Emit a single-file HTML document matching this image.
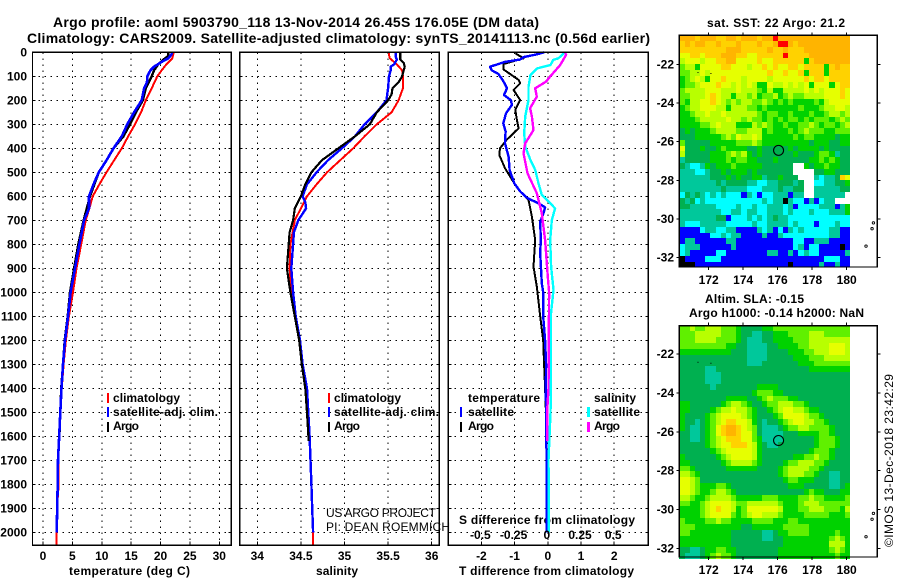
<!DOCTYPE html>
<html>
<head>
<meta charset="utf-8">
<title>Argo profile 5903790_118</title>
<style>
html,body{margin:0;padding:0;background:#fff;width:900px;height:580px;overflow:hidden}
svg{display:block}
text{font-family:"Liberation Sans",sans-serif;fill:#000}
.b{font-weight:bold;font-size:12px}
.t{font-weight:bold;font-size:14px}
.n{font-size:12px}
</style>
</head>
<body>
<svg id="chart" width="900" height="580" viewBox="0 0 900 580" xmlns="http://www.w3.org/2000/svg">
<text class="t" x="53" y="27" textLength="486" lengthAdjust="spacing">Argo profile: aoml 5903790_118 13-Nov-2014 26.45S 176.05E (DM data)</text>
<text class="t" x="27" y="43" textLength="623" lengthAdjust="spacing">Climatology: CARS2009. Satellite-adjusted climatology: synTS_20141113.nc (0.56d earlier)</text>
<text class="b" x="69" y="575" textLength="121" lengthAdjust="spacing">temperature (deg C)</text>
<text class="b" x="316" y="575" textLength="42" lengthAdjust="spacing">salinity</text>
<text class="b" x="459" y="575" textLength="175" lengthAdjust="spacing">T difference from climatology</text>
<text class="b" x="459" y="524" textLength="176" lengthAdjust="spacing">S difference from climatology</text>
<text class="b" x="707" y="27" textLength="138" lengthAdjust="spacing">sat. SST: 22 Argo: 21.2</text>
<text class="b" x="705" y="303" textLength="99" lengthAdjust="spacing">Altim. SLA: -0.15</text>
<text class="b" x="689" y="317" textLength="175" lengthAdjust="spacing">Argo h1000: -0.14 h2000: NaN</text>
<text class="n" transform="translate(893,547) rotate(-90)" textLength="173" lengthAdjust="spacing">©IMOS 13-Dec-2018 23:42:29</text>
<g id="plots"></g>
<g>
<rect x="107" y="393" width="2" height="10" fill="#f00"/>
<text class="b" x="113" y="402" textLength="67" lengthAdjust="spacing">climatology</text>
<rect x="107" y="407" width="2" height="10" fill="#00f"/>
<text class="b" x="113" y="416" textLength="105" lengthAdjust="spacing">satellite-adj. clim.</text>
<rect x="107" y="422" width="2" height="10" fill="#000"/>
<text class="b" x="113" y="430" textLength="26" lengthAdjust="spacing">Argo</text>
</g>
<g>
<rect x="328" y="393" width="2" height="10" fill="#f00"/>
<text class="b" x="334" y="402" textLength="67" lengthAdjust="spacing">climatology</text>
<rect x="328" y="407" width="2" height="10" fill="#00f"/>
<text class="b" x="334" y="416" textLength="105" lengthAdjust="spacing">satellite-adj. clim.</text>
<rect x="328" y="422" width="2" height="10" fill="#000"/>
<text class="b" x="334" y="430" textLength="26" lengthAdjust="spacing">Argo</text>
</g>
<g>
<text class="b" x="468" y="402" textLength="72" lengthAdjust="spacing">temperature</text>
<rect x="460" y="407" width="2" height="10" fill="#00f"/>
<text class="b" x="468" y="416" textLength="46" lengthAdjust="spacing">satellite</text>
<rect x="460" y="422" width="2" height="10" fill="#000"/>
<text class="b" x="468" y="430" textLength="26" lengthAdjust="spacing">Argo</text>
<text class="b" x="594" y="402" textLength="42" lengthAdjust="spacing">salinity</text>
<rect x="587" y="407" width="3" height="10" fill="#0ff"/>
<text class="b" x="594" y="416" textLength="46" lengthAdjust="spacing">satellite</text>
<rect x="587" y="422" width="3" height="10" fill="#f0f"/>
<text class="b" x="594" y="430" textLength="26" lengthAdjust="spacing">Argo</text>
</g>
<text class="n" x="326" y="517" textLength="110" lengthAdjust="spacing">US ARGO PROJECT</text>
<text class="n" x="326" y="531" textLength="124" lengthAdjust="spacing">PI: DEAN ROEMMICH</text>
</svg>
<script>
// Tick labels
const depthTicks = [0,100,200,300,400,500,600,700,800,900,1000,1100,1200,1300,1400,1500,1600,1700,1800,1900,2000];
const tempTicks = [0,5,10,15,20,25,30];
const salTicks = [34,34.5,35,35.5,36];
const tDiffTicks = [-2,-1,0,1,2];
const sDiffTicks = [-0.5,-0.25,0,0.25,0.5];
const lonTicks = [172,174,176,178,180];
const latTicks = [-22,-24,-26,-28,-30,-32];

// Temperature panel
const climDepth = [0,10,25,50,75,100,150,200,250,300,350,400,450,500,550,600,650,700,800,900,1000,1100,1200,1300,1400,1500,1600,1700,1800,1900,2000,2055];
const climTemp = [22.2,22.15,22,21,20.2,19.45,18.5,17.5,16.7,15.65,14.5,13.4,12.1,10.8,9.6,8.45,7.9,7.26,6.5,5.7,5.1,4.4,3.9,3.5,3.2,2.95,2.78,2.6,2.67,2.38,2.33,2.3];
const climSal = [35.51,35.51,35.52,35.6,35.66,35.67,35.67,35.62,35.54,35.37,35.23,35.1,34.95,34.8,34.68,34.57,34.5,34.43,34.38,34.37,34.39,34.44,34.49,34.52,34.57,34.585,34.6,34.61,34.62,34.63,34.64,34.64];
const satDepth = [0,10,25,40,60,75,100,125,150,200,250,300,350,400,450,500,550,600,650,700,800,900,1000,1100,1200,1300,1400,1500,1600,1700,1800,1900,2000];
const satTemp = [21.95,21.85,21.3,20.2,18.9,18.3,17.75,17.7,17.2,16.8,15.5,14.35,13.4,12,10.8,9.5,8.6,7.83,7.83,7,6.2,5.45,4.7,4.25,3.75,3.4,3.15,2.95,2.75,2.55,2.5,2.42,2.33];
const satSalDepth = [0,20,30,50,60,75,100,150,200,250,300,350,400,450,500,550,600,625,650,700,750,800,900,1000,1100,1200,1300,1400,1500,1600,1700,1800,1900,2000];
const satSal = [35.59,35.59,35.6,35.57,35.53,35.53,35.51,35.5,35.48,35.37,35.23,35.12,34.97,34.81,34.68,34.57,34.52,34.55,34.56,34.47,34.42,34.41,34.39,34.41,34.44,34.49,34.52,34.57,34.585,34.6,34.61,34.62,34.63,34.64];
const argoDepth = [0,15,30,50,75,100,150,200,250,300,350,400,450,500,550,600,700,800,900,1000,1100,1200,1300,1400,1500,1620];
const argoTemp = [21.3,21.3,20.5,19.6,18.9,18.5,17.5,17,15.8,14.8,13.7,12,10.8,9.5,8.75,8,6.9,6,5.3,4.6,4.2,3.7,3.4,3.1,2.95,2.75];
const argoSalDepth = [0,30,45,60,100,125,150,175,200,250,300,350,400,450,500,550,600,650,700,750,800,900,1000,1100,1200,1300,1400,1500,1620];
const argoSal = [35.64,35.64,35.68,35.69,35.66,35.62,35.55,35.54,35.5,35.37,35.29,35.12,34.93,34.74,34.62,34.55,34.5,34.43,34.41,34.37,34.36,34.34,34.38,34.43,34.48,34.51,34.55,34.57,34.59];

// Difference panel
const satTDiffDepth = [0,10,20,30,40,60,75,90,110,125,150,178,199,219,254,296,330,379,435,490,546,580,608,629,646,671,706,782,837,963,1000,1100,1200,1300,1400,1500,1600,1700,1800,2000];
const satTDiff = [-0.10,-0.38,-0.73,-0.83,-1.29,-1.74,-1.69,-1.49,-1.39,-1.32,-1.23,-1.32,-1.11,-1.08,-1.26,-1.34,-1.27,-1.29,-1.18,-1.15,-1.01,-0.83,-0.61,-0.28,-0.08,-0.13,-0.23,-0.21,-0.23,-0.18,-0.14,-0.14,-0.08,-0.05,-0.06,-0.05,-0.05,-0.03,-0.03,-0.03];
const argoTDiffDepth = [4,25,49,71,115,129,157,199,240,282,317,365,400,428,483,546,580,615,685,782,893,976,1100,1200,1300,1400,1520];
const argoTDiff = [-0.98,-0.73,-1.34,-1.34,-0.88,-0.83,-1.03,-0.83,-0.98,-0.93,-0.88,-1.24,-1.44,-1.46,-1.29,-1.01,-0.83,-0.58,-0.48,-0.38,-0.43,-0.33,-0.23,-0.14,-0.11,-0.08,-0.05];
const satSDiffDepth = [0,25,32,53,67,94,143,199,268,337,393,449,490,546,594,650,699,782,893,990,1100,1200,1400,1500,1700,1900,2000];
const satSDiff = [0.13,0.08,0.04,0.02,-0.08,-0.13,-0.145,-0.145,-0.17,-0.178,-0.17,-0.13,-0.095,-0.07,-0.045,0.055,0.03,0.018,0.025,0.043,0.022,0.022,0.023,0.02,0.005,0.008,0.008];
const argoSDiffDepth = [0,11,53,104,122,150,185,233,268,324,379,421,504,587,671,782,935,1000,1400,1500,1620];
const argoSDiff = [0.13,0.138,0.093,0.0125,-0.013,-0.095,-0.083,-0.133,-0.12,-0.108,-0.17,-0.183,-0.153,-0.083,-0.045,-0.02,0,0.01,0.005,-0.005,-0.005];

// Map colour levels: 0 blue .. 9 orange, 10 red, 11 black, 12 no data
const levelColors = ["#0000ff","#00ffff","#00c89b","#00b050","#00d200","#60f000","#b8ff00","#e6ff00","#ffd200","#ffb400","#ff0000","#000000","#ffffff"];
const sstLevels = [
[9,9,9,8,9,9,9,8,8,9,9,8,9,9,9,8,9,9,10,9,9,9,9,9,9,9,9,9,9,9,9,9,9],
[8,9,8,9,9,8,8,9,8,8,8,9,8,8,8,9,8,8,9,10,10,9,8,9,9,9,9,9,9,9,9,9,9],
[8,8,8,8,8,8,8,8,8,9,9,9,8,8,8,8,8,9,8,8,9,8,8,8,9,9,9,9,9,9,9,9,9],
[7,7,8,8,7,8,8,8,9,9,9,8,8,7,7,8,8,8,8,8,10,8,8,8,8,9,9,9,9,9,9,9,9],
[6,7,7,7,6,7,7,8,8,9,9,7,7,7,7,8,7,7,8,8,8,8,8,8,4,8,9,9,9,9,9,9,9],
[5,6,6,4,7,7,7,7,8,8,7,7,7,6,7,7,8,7,8,7,7,8,8,7,8,8,8,8,4,8,9,8,8],
[5,5,6,6,7,6,7,7,7,7,7,7,7,7,7,7,7,8,7,7,8,7,7,8,4,8,8,8,4,8,8,8,8],
[4,5,6,7,6,4,7,7,8,7,7,7,6,7,7,7,7,6,7,7,7,7,7,7,8,7,8,8,7,8,8,8,8],
[4,5,5,6,7,7,7,8,7,7,6,7,6,7,6,4,4,7,6,6,7,6,7,6,7,4,7,7,7,4,7,8,8],
[5,6,6,6,6,7,7,7,6,6,6,7,6,6,6,5,4,6,4,4,6,6,6,6,7,6,7,6,7,7,7,8,7],
[5,5,6,6,6,7,8,7,6,6,4,6,6,5,6,4,5,5,6,4,5,6,5,5,6,6,6,6,7,7,7,8,7],
[5,4,6,6,7,7,8,7,6,5,6,5,6,6,5,5,6,5,4,5,4,5,4,4,4,4,5,4,6,7,7,7,7],
[4,5,6,6,7,7,7,6,6,4,6,6,6,5,5,4,5,4,4,4,4,4,4,5,4,4,4,5,6,6,7,7,6],
[4,4,5,6,6,7,6,6,7,6,6,6,6,6,6,5,4,5,5,4,4,5,4,4,4,5,4,4,5,6,6,5,6],
[4,4,4,5,6,6,6,6,6,7,6,6,5,6,5,5,4,5,4,5,4,5,5,4,5,4,5,5,5,4,5,6,5],
[4,4,4,4,5,5,6,7,6,6,6,4,4,4,6,5,6,5,4,4,5,4,4,5,5,6,5,4,5,5,4,5,6],
[3,4,3,4,4,4,5,6,6,6,6,5,5,6,6,6,4,5,4,4,4,5,4,5,6,5,5,5,4,4,5,5,5],
[3,3,3,4,4,4,4,4,5,6,5,7,6,6,7,6,4,4,4,4,4,4,5,4,5,5,4,4,4,4,3,4,4],
[5,3,3,3,3,3,4,4,4,4,4,5,5,5,6,5,4,4,4,4,4,4,4,4,4,3,4,4,4,3,3,4,4],
[7,3,3,3,4,3,3,4,5,4,4,4,4,3,3,4,3,3,3,3,3,4,3,4,4,4,4,3,4,3,3,3,3],
[6,3,3,3,3,3,4,4,4,5,6,5,6,4,3,4,3,3,3,3,3,3,4,3,3,3,4,5,5,4,2,3,3],
[2,3,3,3,3,3,4,4,4,5,4,5,5,4,4,3,3,3,4,3,3,3,3,3,3,4,4,5,4,5,4,3,3],
[3,2,1,1,2,4,3,4,4,4,5,4,4,4,4,4,3,3,3,3,3,3,12,12,4,3,4,4,5,4,4,3,3],
[2,2,2,1,1,2,3,3,4,3,4,4,4,3,4,3,3,3,3,3,3,3,12,12,12,12,3,3,4,4,3,3,3],
[2,2,2,2,2,2,3,3,3,4,3,4,3,3,4,4,2,3,3,4,3,3,3,12,12,12,2,1,2,2,3,8,7],
[2,2,2,2,2,2,2,3,2,3,3,3,3,2,2,1,1,2,2,3,3,3,2,3,12,12,1,1,2,2,3,3,4],
[2,2,2,2,2,2,2,2,3,2,2,2,2,1,1,1,2,2,2,3,2,2,3,3,12,12,2,2,2,2,2,3,3],
[1,3,2,3,2,1,2,1,2,1,1,1,0,2,1,0,1,1,2,2,2,0,2,2,12,12,2,2,2,2,2,2,12],
[3,2,3,1,2,1,1,1,1,1,1,1,1,1,1,1,2,1,2,2,11,2,1,1,0,2,0,1,2,2,12,12,12],
[3,3,2,2,2,2,2,1,1,1,1,2,1,1,2,1,1,2,2,2,1,2,0,1,1,1,1,2,2,2,0,2,4],
[2,2,2,2,2,2,2,2,1,1,2,2,1,2,2,1,1,2,2,2,1,2,1,1,1,2,1,1,1,2,2,2,4],
[2,2,2,2,2,2,2,3,3,0,1,1,1,2,1,2,1,2,3,2,2,1,1,1,1,1,1,1,1,1,1,1,1],
[2,1,1,1,2,2,2,2,2,1,1,1,1,1,2,1,1,2,2,2,2,1,2,1,1,1,0,1,1,1,2,1,1],
[0,0,0,0,1,2,2,1,1,2,2,0,0,0,0,2,1,2,0,1,0,2,1,2,1,1,1,1,1,2,2,0,0],
[0,0,0,0,0,0,1,1,2,1,2,2,0,0,0,0,2,0,0,2,1,1,1,1,1,1,1,1,1,2,2,0,0],
[0,2,2,0,0,0,0,0,0,2,2,0,0,0,0,0,0,0,0,0,0,0,1,1,0,0,2,2,2,0,0,0,0],
[1,2,2,2,0,0,0,0,0,0,2,0,0,0,0,0,0,0,0,0,0,0,1,2,0,1,1,0,0,0,0,11,0],
[1,2,0,0,0,0,0,1,1,0,0,0,0,0,0,0,0,2,2,0,0,2,0,1,2,1,1,0,0,0,0,0,2],
[11,0,0,0,0,1,1,1,0,0,0,0,0,0,0,0,0,0,0,0,0,0,0,0,0,0,0,0,1,1,1,0,0],
[11,11,11,0,0,0,0,0,0,0,0,0,0,0,0,0,0,0,0,0,0,11,0,0,0,0,0,2,0,0,2,0,0]
];
const slaLevels = [
[5,5,6,5,5,6,6,6,5,5,5,4,3,3,3,3,4,4,5,5,5,5,5,5,5,5,5,5,5,5,5,5,5],
[5,5,5,6,6,6,6,6,5,5,5,4,3,3,2,2,3,3,4,4,4,5,5,5,5,6,6,6,5,5,5,5,5],
[5,5,5,6,6,6,6,5,5,5,5,4,3,2,2,2,3,3,4,4,4,4,5,5,5,6,6,6,6,6,6,6,6],
[5,5,5,5,5,5,5,5,5,4,4,3,3,2,2,2,2,3,3,4,4,4,4,5,5,6,6,6,6,7,7,7,6],
[4,4,4,4,4,4,4,4,4,4,3,3,3,2,2,2,2,3,3,3,3,4,4,4,5,5,6,6,6,7,7,7,6],
[3,3,3,3,3,3,3,3,3,3,3,3,3,2,2,2,2,3,3,3,3,3,4,4,4,5,5,5,6,6,6,6,6],
[3,3,3,3,3,3,3,3,3,3,3,3,3,2,2,2,3,3,3,3,3,3,3,4,4,4,5,5,5,5,5,5,5],
[3,3,3,3,3,2,2,3,3,3,3,3,3,3,3,3,3,3,3,3,3,3,3,3,3,4,4,4,4,4,4,4,4],
[3,3,3,3,3,2,2,2,3,3,3,3,3,3,3,3,3,3,3,3,3,3,3,3,3,3,3,3,3,3,3,3,3],
[3,3,3,3,3,2,2,2,3,3,3,3,3,3,3,3,3,3,3,3,3,3,3,3,3,3,3,3,3,3,3,3,3],
[3,3,3,3,3,3,2,3,3,3,3,3,3,3,3,4,4,4,4,3,3,3,3,3,3,3,3,3,3,3,3,3,3],
[3,3,3,3,3,3,3,3,3,3,3,3,3,3,4,5,5,5,4,4,3,3,3,3,3,3,3,3,3,3,3,3,3],
[3,3,3,3,3,3,3,3,3,4,4,4,4,3,3,4,5,6,5,5,5,4,4,3,3,3,3,3,3,3,3,3,3],
[4,4,3,3,3,3,3,3,4,5,6,6,5,4,3,3,4,5,5,6,6,6,5,5,4,3,3,3,3,3,3,3,3],
[4,4,3,3,3,3,4,5,6,6,7,6,6,5,4,3,3,4,5,6,7,7,6,6,5,4,4,3,3,3,3,3,3],
[4,3,3,3,3,4,5,6,7,7,7,7,6,5,4,3,3,3,4,5,7,7,7,7,6,5,5,4,3,3,3,3,3],
[4,3,3,2,3,4,5,6,7,8,8,7,7,6,4,3,2,3,3,4,5,6,7,7,6,6,5,5,4,3,3,3,3],
[4,3,2,2,3,4,5,7,8,9,9,8,7,6,5,3,2,2,2,3,4,5,5,6,6,5,5,5,5,4,3,3,3],
[3,3,2,2,3,4,5,7,8,9,9,8,7,7,5,3,2,2,2,2,3,3,3,4,4,4,4,5,5,4,3,3,3],
[3,3,2,2,3,4,5,6,7,8,8,8,7,7,5,4,2,2,2,2,3,3,3,3,3,3,4,5,5,5,4,3,3],
[3,3,3,3,3,4,5,6,7,7,8,8,8,7,6,4,3,2,2,3,3,3,3,3,3,3,4,5,5,5,4,3,3],
[3,3,3,3,3,3,4,5,6,7,7,7,7,7,6,4,3,3,3,3,3,3,3,3,3,4,5,5,5,4,3,3,3],
[4,3,3,3,3,3,3,4,5,6,7,7,7,7,6,4,3,3,3,3,3,3,4,4,5,5,6,5,5,4,3,3,3],
[4,4,3,3,3,3,3,3,4,5,6,6,6,6,5,4,3,3,3,3,4,5,5,6,6,6,5,5,4,3,3,3,3],
[5,5,4,3,3,3,3,3,3,4,4,4,4,4,4,3,3,3,3,4,5,6,6,6,6,5,5,4,3,3,3,3,3],
[6,6,5,4,3,3,3,3,3,3,3,3,3,3,3,3,3,3,3,4,5,6,6,6,5,5,4,3,3,2,2,3,3],
[7,7,6,5,3,3,3,3,3,3,3,3,3,3,3,3,3,3,3,3,4,5,5,4,4,4,3,3,3,2,2,3,3],
[7,7,6,5,4,4,4,5,5,4,3,3,3,3,3,3,3,3,3,3,3,4,4,4,3,3,3,3,3,2,2,3,4],
[7,7,6,5,4,4,5,6,6,5,4,3,3,3,3,3,3,3,3,3,3,3,3,3,4,5,4,4,3,3,3,4,4],
[6,6,5,4,4,5,6,6,6,6,5,4,4,4,4,4,5,5,5,4,4,4,4,5,5,6,5,5,4,4,4,4,5],
[5,5,4,4,5,6,7,7,7,7,6,5,5,6,6,6,6,6,6,5,4,4,4,5,6,6,6,5,5,5,5,5,5],
[4,4,4,4,5,6,7,8,7,7,6,4,5,7,7,7,7,7,7,6,4,4,4,5,5,6,6,6,5,5,5,4,6],
[4,4,4,4,5,6,7,7,7,7,5,4,5,6,7,7,6,6,6,5,4,4,4,4,5,5,5,5,5,4,4,4,5],
[5,4,4,4,4,5,5,6,5,5,4,4,4,4,5,5,5,5,4,4,4,5,5,4,4,4,4,4,4,4,4,4,4],
[5,5,5,4,4,4,4,4,4,4,4,4,3,3,4,4,4,4,4,4,5,5,5,5,5,4,4,4,4,4,4,4,4],
[5,5,4,4,4,4,4,4,4,4,3,3,3,3,3,3,2,2,3,4,4,5,5,5,5,4,4,4,4,4,5,4,4],
[4,4,4,4,4,4,4,4,4,4,3,3,3,3,3,3,2,2,3,3,4,4,4,4,4,4,4,4,4,5,6,5,4],
[4,4,4,4,4,4,4,4,4,4,3,3,3,3,3,3,3,3,3,3,4,4,4,4,4,4,4,4,4,6,6,6,4],
[3,3,2,2,3,4,4,5,5,4,4,3,3,3,3,3,3,3,3,4,4,4,4,4,4,4,4,4,4,5,6,5,4],
[3,2,2,2,3,4,5,6,5,5,4,3,3,3,3,3,3,3,3,4,4,4,4,4,4,4,4,4,4,4,5,4,4]
];
const floatLon = [176.05];
const floatLat = [-26.45];
const islandLon = [181.55,181.47,181.12];
const islandLat = [-30.2,-30.5,-31.4];
const speckLon = [171.35,172.1];
const speckLat = [-22.4,-22.45];

const NS = "http://www.w3.org/2000/svg";
const plots = document.getElementById("plots");
const yDepth = d => 52.3 + 0.24 * d;
const xTemp = v => 43 + 5.877 * v;
const xSal = v => 257.3 + 87.2 * (v - 34);
const xTDiff = v => 547.8 + 33.2 * v;
const xSDiff = v => 547.8 + 132.8 * v;
const xLon = v => 708.7 + 17.25 * (v - 172);
const yLatSst = v => 64.3 + 19.34 * (-22 - v);
const yLatSla = v => 354 + 19.44 * (-22 - v);
const LON0 = 170.3, LAT0 = -20.5, LAT0B = -20.54, CELL = 0.3;

function mk(tag, attrs) {
  const e = document.createElementNS(NS, tag);
  for (const k in attrs) e.setAttribute(k, attrs[k]);
  plots.appendChild(e);
  return e;
}
function drawGridLine(x1, y1, x2, y2, name) {
  const el = mk("line", {x1: x1, y1: y1, x2: x2, y2: y2, stroke: "#000", "stroke-width": 1, "stroke-dasharray": "1.5 4.5", "shape-rendering": "crispEdges"});
  
  
}
function drawTick(x1, y1, x2, y2, name) {
  const el = mk("line", {x1: x1, y1: y1, x2: x2, y2: y2, stroke: "#000", "stroke-width": 1, "shape-rendering": "crispEdges"});
  
  
}
function drawLabel(x, y, anchor, str, name) {
  const el = mk("text", {x: x, y: y, "text-anchor": anchor, class: "b"});
  el.textContent = str;
  
  
}
function drawFrame(x, y, w, h, name) {
  const el = mk("rect", {x: x, y: y, width: w, height: h, fill: "none", stroke: "#000", "stroke-width": 1.4, "shape-rendering": "crispEdges"});
  
  
}
function drawSeries(depths, values, xf, color, width, name) {
  const pts = depths.map((d, i) => xf(values[i]).toFixed(1) + "," + yDepth(d).toFixed(1)).join(" ");
  const el = mk("polyline", {points: pts, fill: "none", stroke: color, "stroke-width": width, "stroke-linejoin": "round", "shape-rendering": "crispEdges"});
  
  
}
function drawPanelGrid(left, right, top, bottom, xTicks, xf) {
  depthTicks.forEach(d => {
    if (d > 0) drawGridLine(left, yDepth(d), right, yDepth(d), "depth-gridline");
    drawTick(left, yDepth(d), left + 3, yDepth(d), "depth-tick");
    drawTick(right - 3, yDepth(d), right, yDepth(d), "depth-tick");
  });
  xTicks.forEach(v => {
    drawGridLine(xf(v), top, xf(v), bottom, "x-gridline");
    drawTick(xf(v), bottom - 4, xf(v), bottom, "x-tick");
  });
}

// Panel 1: temperature
drawPanelGrid(32.5, 231.3, 52.3, 545.3, tempTicks, xTemp);
drawSeries(climDepth, climTemp, xTemp, "#ff0000", 2, "temperature-climatology-line");
drawSeries(argoDepth, argoTemp, xTemp, "#000000", 2.4, "temperature-argo-line");
drawSeries(satDepth, satTemp, xTemp, "#0000ff", 2.6, "temperature-satellite-line");
drawFrame(32.5, 52.3, 198.8, 493, "temperature-plot-frame");
depthTicks.forEach(d => drawLabel(27, yDepth(d) + 4, "end", String(d), "depth-tick-label"));
tempTicks.forEach(v => drawLabel(xTemp(v), 560, "middle", String(v), "temperature-tick-label"));

// Panel 2: salinity
drawPanelGrid(239.7, 439.3, 52.3, 545.3, salTicks, xSal);
drawSeries(climDepth, climSal, xSal, "#ff0000", 2, "salinity-climatology-line");
drawSeries(satSalDepth, satSal, xSal, "#0000ff", 2.4, "salinity-satellite-line");
drawSeries(argoSalDepth, argoSal, xSal, "#000000", 2.2, "salinity-argo-line");
drawFrame(239.7, 52.3, 199.6, 493, "salinity-plot-frame");
salTicks.forEach(v => drawLabel(xSal(v), 560, "middle", String(v), "salinity-tick-label"));

// Panel 3: differences
drawPanelGrid(448.3, 648.3, 52.3, 545.3, tDiffTicks, xTDiff);
drawSeries(argoTDiffDepth, argoTDiff, xTDiff, "#000000", 2, "t-difference-argo-line");
drawSeries(satTDiffDepth, satTDiff, xTDiff, "#0000ff", 2.4, "t-difference-satellite-line");
drawSeries(satSDiffDepth, satSDiff, xSDiff, "#00ffff", 2.4, "s-difference-satellite-line");
drawSeries(argoSDiffDepth, argoSDiff, xSDiff, "#ff00ff", 2.4, "s-difference-argo-line");
drawFrame(448.3, 52.3, 200, 493, "difference-plot-frame");
tDiffTicks.forEach(v => drawLabel(xTDiff(v), 560, "middle", String(v), "t-difference-tick-label"));
sDiffTicks.forEach(v => drawLabel(xSDiff(v) - 1, 539, "middle", String(v), "s-difference-tick-label"));

// Maps
function drawMap(levels, yLat, lat0, name) {
  levels.forEach((row, j) => {
    row.forEach((lev, i) => {
      const x0 = Math.round(xLon(LON0 + CELL * i));
      const x1 = Math.round(xLon(LON0 + CELL * (i + 1)));
      const y0 = Math.round(yLat(lat0 - CELL * j));
      const y1 = Math.round(yLat(lat0 - CELL * (j + 1)));
      const el = mk("rect", {x: x0, y: y0, width: x1 - x0, height: y1 - y0, fill: levelColors[lev], "shape-rendering": "crispEdges"});
      
      
    });
  });
}
function drawMapDecor(yLat, left, right, top, bottom, prefix, labelY) {
  drawFrame(left, top, right - left, bottom - top, prefix + "-map-frame");
  lonTicks.forEach(v => {
    drawTick(xLon(v), top - 3, xLon(v), top, prefix + "-lon-tick");
    drawTick(xLon(v), bottom, xLon(v), bottom + 3, prefix + "-lon-tick");
    drawLabel(xLon(v), labelY, "middle", String(v), prefix + "-lon-tick-label");
  });
  latTicks.forEach(v => {
    drawTick(left - 3, yLat(v), left, yLat(v), prefix + "-lat-tick");
    drawTick(right, yLat(v), right + 3, yLat(v), prefix + "-lat-tick");
    drawLabel(674, yLat(v) + 4, "end", String(v), prefix + "-lat-tick-label");
  });
  const marker = mk("circle", {cx: xLon(floatLon[0]), cy: yLat(floatLat[0]), r: 5, fill: "none", stroke: "#000", "stroke-width": 1.1});
  
  
  islandLon.forEach((lon, i) => {
    const isl = mk("circle", {cx: xLon(lon), cy: yLat(islandLat[i]), r: 1.2, fill: "#fff", stroke: "#000", "stroke-width": 0.9});
    
    
  });
  speckLon.forEach((lon, i) => {
    const sp = mk("rect", {x: xLon(lon), y: yLat(speckLat[i]), width: 1, height: 1, fill: "#000"});
    
    
  });
}
drawMap(sstLevels, yLatSst, LAT0, "sst-cell");
drawMapDecor(yLatSst, 679.3, 877.3, 35.3, 267, "sst", 284);
drawMap(slaLevels, yLatSla, LAT0B, "sla-cell");
drawMapDecor(yLatSla, 679.3, 877.3, 325.7, 557, "sla", 574);
</script>
</body>
</html>
